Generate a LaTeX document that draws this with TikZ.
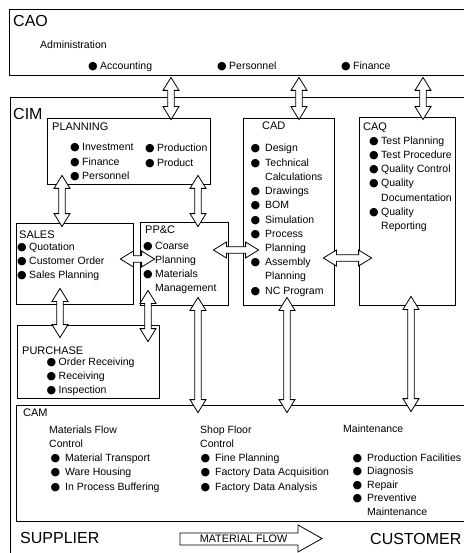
\documentclass[tikz,border=0pt]{standalone}
\usepackage{fontspec}
\setmainfont{Liberation Sans}
\newfontfamily\symfont{DejaVu Sans}
\usetikzlibrary{calc}
\newcommand\bul[1][2.5pt]{\llap{{\symfont\fontsize{11}{11}\selectfont ●}\hspace{#1}}}

\begin{document}
\begin{tikzpicture}[x=1pt, y=-1pt,
    box/.style={draw=black, line width=0.8pt, inner sep=0pt},
    big/.style={anchor=base west, inner sep=0pt, font=\fontsize{16}{16}\selectfont},
    head/.style={anchor=base west, inner sep=0pt, font=\fontsize{11}{11}\selectfont},
    item/.style={anchor=base west, inner sep=0pt, font=\fontsize{10.5}{12}\selectfont},
    dbl/.style={draw=black, fill=white, line width=0.8pt, to path={
        -- ($(\tikztostart)!13pt!(\tikztotarget)!8pt!90:(\tikztotarget)$)
        -- ($(\tikztostart)!13pt!(\tikztotarget)!3.2pt!90:(\tikztotarget)$)
        -- ($(\tikztotarget)!13pt!(\tikztostart)!3.2pt!-90:(\tikztostart)$)
        -- ($(\tikztotarget)!13pt!(\tikztostart)!8pt!-90:(\tikztostart)$)
        -- (\tikztotarget)
        -- ($(\tikztotarget)!13pt!(\tikztostart)!8pt!90:(\tikztostart)$)
        -- ($(\tikztotarget)!13pt!(\tikztostart)!3.2pt!90:(\tikztostart)$)
        -- ($(\tikztostart)!13pt!(\tikztotarget)!3.2pt!-90:(\tikztotarget)$)
        -- ($(\tikztostart)!13pt!(\tikztotarget)!8pt!-90:(\tikztotarget)$)
        -- cycle}}
]
    \useasboundingbox (0,0) rectangle (463,553);

    % frames
    \node[box, minimum width=470, minimum height=66] (cao) at (244,42) {};
    \node[box, minimum width=470, minimum height=470] (cim) at (245,332) {};
    \node[box, minimum width=163, minimum height=66] (plan) at (128.5,151) {};
    \node[box, minimum width=91, minimum height=187] (cad) at (288.5,211.5) {};
    \node[box, minimum width=96, minimum height=188] (caq) at (407,211) {};
    \node[box, minimum width=117, minimum height=81] (sales) at (74.5,263.5) {};
    \node[box, minimum width=88, minimum height=83] (ppc) at (184,263.5) {};
    \node[box, minimum width=142, minimum height=73] (purch) at (88,361.5) {};
    \node[box, minimum width=464, minimum height=116] (cam) at (248,463) {};

    % links
    \draw[dbl] ($(cao.south -| 171,0)+(0,2)$) to ($(plan.north -| 171,0)+(0,2)$);
    \draw[dbl] ($(cao.south -| 299,0)+(0,2)$) to ($(cad.north -| 299,0)+(0,2)$);
    \draw[dbl] ($(cao.south -| 423,0)+(0,2)$) to ($(caq.north -| 423,0)+(0,3)$);
    \draw[dbl] ($(plan.south -| 62,0)+(0,-9)$) to ($(sales.north -| 62,0)+(0,4)$);
    \draw[dbl] ($(plan.south -| 198,0)+(0,-9)$) to ($(ppc.north -| 198,0)+(0,5)$);
    \draw[dbl] ($(sales.east |- 0,259)+(-13,0)$) to ($(ppc.west |- 0,259)+(15,0)$);
    \draw[dbl] ($(ppc.east |- 0,250)+(-15,0)$) to ($(cad.west |- 0,250)+(16,0)$);
    \draw[dbl] ($(cad.east |- 0,258)+(-11,0)$) to ($(caq.west |- 0,258)+(13,0)$);
    \draw[dbl] ($(sales.south -| 60,0)+(0,-16)$) to ($(purch.north -| 60,0)+(0,13)$);
    \draw[dbl] ($(ppc.south -| 148,0)+(0,-15)$) to ($(purch.north -| 148,0)+(0,17)$);
    \draw[dbl] ($(ppc.south -| 198,0)+(0,-8)$) to ($(cam.north -| 198,0)+(0,8)$);
    \draw[dbl] ($(cad.south -| 287,0)+(0,-8)$) to ($(cam.north -| 287,0)+(0,8)$);
    \draw[dbl] ($(caq.south -| 411,0)+(0,-9)$) to ($(cam.north -| 411,0)+(0,7)$);

    % CAO
    \node[big] (caot) at (13,26.5) {CAO};
    \node[item] (admin) at (40,49) {Administration};
    \node[item] (acc) at (100,70) {\bul Accounting};
    \node[item] (pers) at (229,70) {\bul Personnel};
    \node[item] (fin) at (353,70) {\bul Finance};

    % CIM
    \node[big] (cimt) at (13,120) {CIM};
    \node[head] (plant) at (52,131) {PLANNING};
    \foreach \t [count=\i from 0] in {Investment, Finance, Personnel}
        \node[item] (pl\i) at (82,151+14.4*\i) {\bul\t};
    \foreach \t [count=\i from 0] in {Production, Product}
        \node[item] (pr\i) at (157,152+15*\i) {\bul\t};

    \node[head] (cadt) at (262,130) {CAD};
    \foreach \t [count=\i from 0] in {\bul[5pt]Design, \bul[5pt]Technical, Calculations,
            \bul[5pt]Drawings, \bul[5pt]BOM, \bul[5pt]Simulation, \bul[5pt]Process,
            Planning, \bul[5pt]Assembly, Planning, \bul[5pt]NC Program}
        \node[item] (cad\i) at (265,152+14.2*\i) {\t};

    \node[head] (caqt) at (363,131) {CAQ};
    \foreach \t [count=\i from 0] in {\bul Test Planning, \bul Test Procedure,
            \bul Quality Control, \bul Quality, Documentation, \bul Quality, Reporting}
        \node[item] (caq\i) at (381,145+14*\i) {\t};

    \node[head] (salest) at (19,238) {SALES};
    \foreach \t [count=\i from 0] in {Quotation, Customer Order, Sales Planning}
        \node[item] (sal\i) at (29,250+14*\i) {\bul\t};

    \node[head] (ppct) at (145,233) {PP\&C};
    \foreach \t [count=\i from 0] in {\bul Coarse, Planning, \bul Materials, Management}
        \node[item] (ppc\i) at (155,249+14*\i) {\t};

    \node[head] (purcht) at (22,354) {PURCHASE};
    \foreach \t [count=\i from 0] in {Order Receiving, Receiving, Inspection}
        \node[item] (pur\i) at (58.5,365+14*\i) {\bul\t};

    % CAM
    \node[head] (camt) at (23,416) {CAM};
    \foreach \t [count=\i from 0] in {Materials Flow, Control}
        \node[item] (mf\i) at (49,433+14.25*\i) {\t};
    \foreach \t [count=\i from 2] in {Material Transport, Ware Housing, In Process Buffering}
        \node[item] (mf\i) at (65,433+14.25*\i) {\bul[5pt]\t};
    \foreach \t [count=\i from 0] in {Shop Floor, Control}
        \node[item] (sf\i) at (200,433+14.25*\i) {\t};
    \foreach \t [count=\i from 2] in {Fine Planning, Factory Data Acquisition, Factory Data Analysis}
        \node[item] (sf\i) at (215,433+14.25*\i) {\bul[5pt]\t};
    \node[item] (mtt) at (343,432) {Maintenance};
    \foreach \t [count=\i from 0] in {\bul[5pt]Production Facilities, \bul[5pt]Diagnosis,
            \bul[5pt]Repair, \bul[5pt]Preventive, Maintenance}
        \node[item] (mt\i) at (367,461+13.5*\i) {\t};

    % bottom line
    \node[big] (sup) at (20,543) {SUPPLIER};
    \node[big] (cust) at (370,544) {CUSTOMER};
    \draw[line width=0.8pt] (180,533) -- (298,533) -- (298,525) -- (322,538.5)
        -- (298,552) -- (298,545) -- (180,545) -- cycle;
    \node[inner sep=0pt, font=\fontsize{10.8}{12}\selectfont] (flow) at (243.5,538.5) {MATERIAL FLOW};
\end{tikzpicture}
\end{document}
